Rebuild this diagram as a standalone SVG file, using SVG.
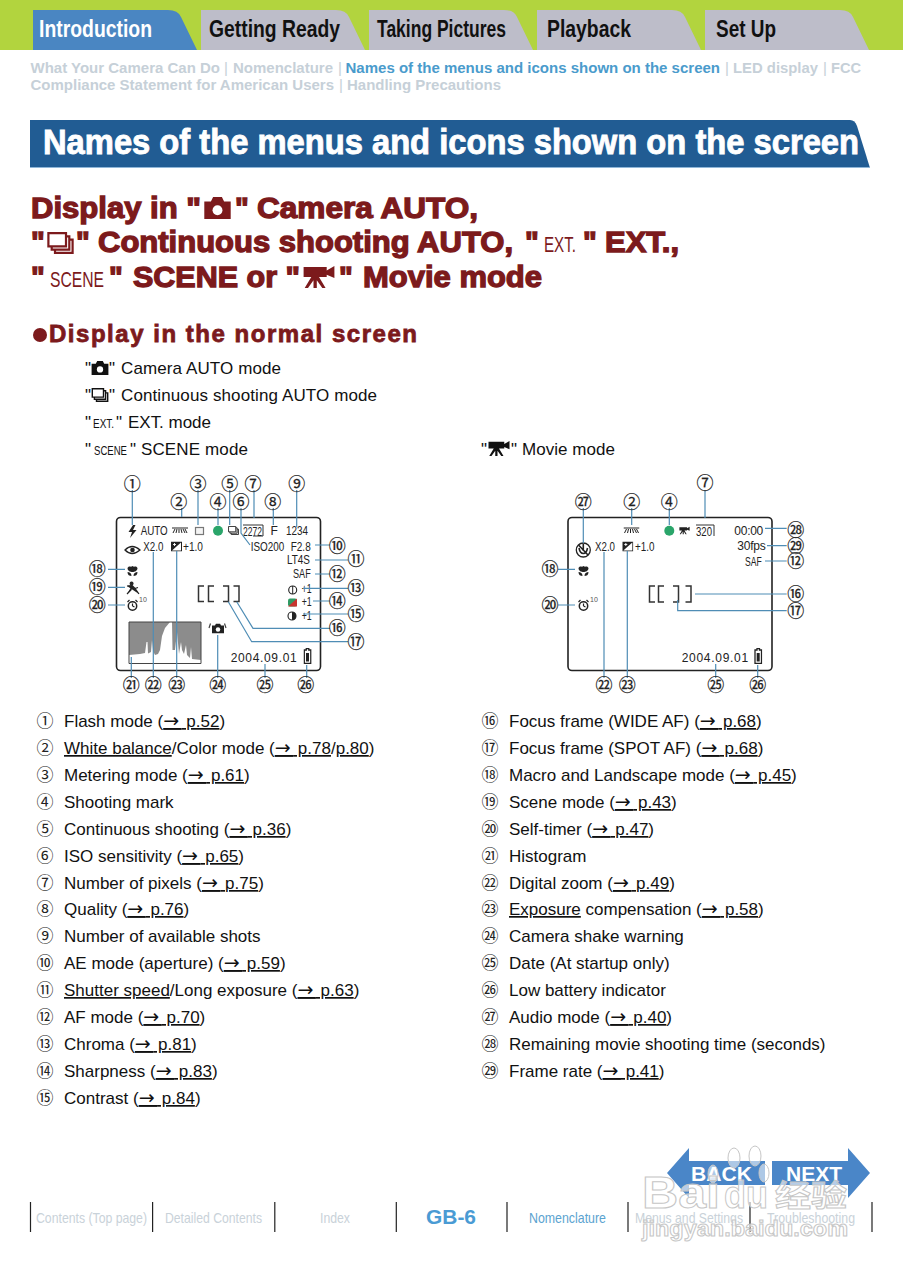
<svg xmlns="http://www.w3.org/2000/svg" width="903" height="1280" viewBox="0 0 903 1280">
<style>
text{font-family:"Liberation Sans",Arial,sans-serif}
.tab{font-size:23px;font-weight:700;fill:#111}
.crumb{font-size:15px;font-weight:700;fill:#c6d0d8}
.crumbon{font-size:15px;font-weight:700;fill:#4a9bcc}
.h1{font-size:29px;font-weight:700;fill:#7c1a1c;stroke:#7c1a1c;stroke-width:1.3px}
.thin{font-size:22px;fill:#7c1a1c}
.h2{font-size:24px;font-weight:700;fill:#7c1a1c;stroke:#7c1a1c;stroke-width:.8px}
.li{font-size:17px;fill:#111}
.ths{font-size:13px;fill:#111}
.it{font-size:17px;fill:#111}
.u{text-decoration:underline;text-underline-offset:4px;text-decoration-thickness:1px;text-decoration-color:#333}
.ar{font-family:"DejaVu Sans",sans-serif;font-size:19px;letter-spacing:2.5px}
.cn{font-family:"Noto Sans CJK JP","Noto Sans CJK SC",sans-serif;font-size:17px;fill:#222;text-anchor:middle}
.m{font-family:"Noto Sans CJK JP","Noto Sans CJK SC",sans-serif;font-size:17px;fill:#222;text-anchor:middle;stroke:#222;stroke-width:.25px}
.lcd{font-size:12px;fill:#222}
.small{font-size:7px;fill:#555}
.lead{fill:none;stroke:#4f8db5;stroke-width:1.2}
.frame{fill:#fff;stroke:#222;stroke-width:1.6}
.br{fill:none;stroke:#333;stroke-width:1.5}
.ft{font-size:14.5px;fill:#c9d2d9}
.ftb{font-size:14.5px;fill:#5ba3d0}
.bar{stroke:#222;stroke-width:1.2}
.nav{font-size:21px;font-weight:700;fill:#fff}
.wm{font-weight:700;fill:#fff;fill-opacity:.6;stroke:#c6c6c6;stroke-width:1}
.paw{fill:#fff;fill-opacity:.55;stroke:#c6c6c6}
</style>
<defs>
<symbol id="cam" viewBox="0 0 24 20"><path d="M0 4H6L8 0H16L18 4H24V20H0Z" fill="currentColor"/><circle cx="12" cy="12" r="4.500" fill="#fff"/></symbol>
<symbol id="cont" viewBox="0 0 24 20"><path d="M1 1H17V13H1Z M4 13V16H20V4H17 M7 16V19H23V7H20" fill="none" stroke="currentColor" stroke-width="2"/></symbol>
<symbol id="mov" viewBox="0 0 30 20"><path d="M1 1H22V4L29 0V11L22 8V10H1Z M8 10H15L21 20H18L13 13V20H10V13L5 20H2Z" fill="currentColor"/></symbol>
<symbol id="wb" viewBox="0 0 16 7"><path d="M0 1H16M1 6L3 2M4 6L5 2M7 6L7 2M10 6L9 2M13 6L11 2M15 6L13 2" stroke="#222" stroke-width="1" fill="none"/></symbol>
<symbol id="macro" viewBox="0 0 12 11"><path d="M1 3C3 0 4 3 6 1C8 3 9 0 11 3C11 6 8 7 6 7C4 7 1 6 1 3ZM1 7C3 7 5 8 5 11C3 11 1 10 1 7ZM11 7C9 7 7 8 7 11C9 11 11 10 11 7Z" fill="#222"/></symbol>
<symbol id="timer" viewBox="0 0 12 12"><circle cx="6" cy="7" r="4.200" fill="none" stroke="#222" stroke-width="1.500"/><path d="M6 7V4.500M6 7L8 8M1 3L3 1M9 1L11 3" stroke="#222" stroke-width="1.200" fill="none"/></symbol>
<symbol id="exp" viewBox="0 0 11 10"><rect width="11" height="10" fill="#222"/><path d="M1 9L10 1V9Z" fill="#fff"/><path d="M2 3H5M3.500 1.500V4.500M6.500 7H9" stroke="#fff" stroke-width=".9" fill="none"/></symbol>
<symbol id="bat" viewBox="0 0 8.500 16"><path d="M1 2H3V.7H5.500V2H7.500V15.300H1Z" fill="#fff" stroke="#222" stroke-width="1.300"/><rect x="2.700" y="5" width="3" height="8.500" fill="#222"/></symbol>
</defs>

<g id="top-nav">
<rect width="903" height="50" fill="#b2d43e"/>
<path id="tab-introduction" d="M33 50V10H168Q178 10 181 17L197 50Z" fill="#4a86c2"/>
<path id="tab-getting-ready" d="M201 50V10H336Q346 10 349 17L365 50Z" fill="#bdbdc9"/>
<path id="tab-taking-pictures" d="M369 50V10H504Q514 10 517 17L533 50Z" fill="#bdbdc9"/>
<path id="tab-playback" d="M537 50V10H672Q682 10 685 17L701 50Z" fill="#bdbdc9"/>
<path id="tab-set-up" d="M705 50V10H840Q850 10 853 17L869 50Z" fill="#bdbdc9"/>
<text class="tab" x="39" y="37" style="fill:#fff" textLength="113" lengthAdjust="spacingAndGlyphs">Introduction</text>
<text class="tab" x="209" y="37" textLength="131" lengthAdjust="spacingAndGlyphs">Getting Ready</text>
<text class="tab" x="377" y="37" textLength="129" lengthAdjust="spacingAndGlyphs">Taking Pictures</text>
<text class="tab" x="547" y="37" textLength="84" lengthAdjust="spacingAndGlyphs">Playback</text>
<text class="tab" x="716" y="37" textLength="60" lengthAdjust="spacingAndGlyphs">Set Up</text>
</g>

<g id="breadcrumb">
<text class="crumb" x="30.500" y="73" textLength="189.500" lengthAdjust="spacingAndGlyphs">What Your Camera Can Do</text>
<text class="crumb" x="224" y="73" style="font-weight:400">|</text>
<text class="crumb" x="233" y="73" textLength="100" lengthAdjust="spacingAndGlyphs">Nomenclature</text>
<text class="crumb" x="338" y="73" style="font-weight:400">|</text>
<text class="crumbon" x="345.500" y="73" textLength="374.500" lengthAdjust="spacingAndGlyphs">Names of the menus and icons shown on the screen</text>
<text class="crumb" x="725" y="73" style="font-weight:400">|</text>
<text class="crumb" x="733" y="73" textLength="85" lengthAdjust="spacingAndGlyphs">LED display</text>
<text class="crumb" x="823" y="73" style="font-weight:400">|</text>
<text class="crumb" x="831" y="73" textLength="30" lengthAdjust="spacingAndGlyphs">FCC</text>
<text class="crumb" x="30.500" y="90" textLength="303.500" lengthAdjust="spacingAndGlyphs">Compliance Statement for American Users</text>
<text class="crumb" x="339" y="90" style="font-weight:400">|</text>
<text class="crumb" x="347" y="90" textLength="154" lengthAdjust="spacingAndGlyphs">Handling Precautions</text>
</g>

<g id="title-bar">
<path d="M30 120H850Q855 120 857 126L870 168H30Z" fill="#215c93"/>
<path d="M30 167.500H870" stroke="#8fb6d8" stroke-width="1"/>
<text x="43" y="154" textLength="816" lengthAdjust="spacingAndGlyphs" style="font-size:35px;font-weight:700;fill:#fff;stroke:#fff;stroke-width:.9px">Names of the menus and icons shown on the screen</text>
</g>

<g id="heading" style="color:#7c1a1c">
<text class="h1" x="31" y="218" textLength="170" lengthAdjust="spacingAndGlyphs">Display in "</text>
<use href="#cam" x="203" y="197" width="29" height="22"/>
<text class="h1" x="235" y="218">"</text>
<text class="h1" x="257" y="218" textLength="221" lengthAdjust="spacingAndGlyphs">Camera AUTO,</text>
<text class="h1" x="31" y="252">"</text>
<use href="#cont" x="47" y="232" width="27" height="22"/>
<text class="h1" x="76" y="252">"</text>
<text class="h1" x="98" y="252" textLength="415" lengthAdjust="spacingAndGlyphs">Continuous shooting AUTO,</text>
<text class="h1" x="525" y="252">"</text>
<text class="thin" x="544" y="252" textLength="32" lengthAdjust="spacingAndGlyphs">EXT.</text>
<text class="h1" x="583" y="252">"</text>
<text class="h1" x="605" y="252" textLength="74" lengthAdjust="spacingAndGlyphs">EXT.,</text>
<text class="h1" x="31" y="287">"</text>
<text class="thin" x="50" y="287" textLength="54" lengthAdjust="spacingAndGlyphs">SCENE</text>
<text class="h1" x="109" y="287">"</text>
<text class="h1" x="133" y="287" textLength="167" lengthAdjust="spacingAndGlyphs">SCENE or "</text>
<use href="#mov" x="301" y="266" width="36" height="22"/>
<text class="h1" x="339" y="287">"</text>
<text class="h1" x="363" y="287" textLength="179" lengthAdjust="spacingAndGlyphs">Movie mode</text>
</g>

<g id="subheading">
<circle cx="40" cy="335" r="7" fill="#7c1a1c"/>
<text class="h2" x="49" y="342" textLength="368" lengthAdjust="spacing">Display in the normal screen</text>
</g>

<g id="mode-list" style="color:#111">
<text class="li" x="85" y="374">"</text><use href="#cam" x="91" y="361" width="18" height="14"/><text class="li" x="109" y="374">"</text><text class="li" x="121" y="374" textLength="160">Camera AUTO mode</text>
<text class="li" x="85" y="401">"</text><use href="#cont" x="91" y="388" width="18" height="14"/><text class="li" x="109" y="401">"</text><text class="li" x="121" y="401" textLength="256">Continuous shooting AUTO mode</text>
<text class="li" x="85" y="428">"</text><text class="ths" x="93" y="428" textLength="21" lengthAdjust="spacingAndGlyphs">EXT.</text><text class="li" x="116" y="428">"</text><text class="li" x="128" y="428" textLength="83">EXT. mode</text>
<text class="li" x="85" y="455">"</text><text class="ths" x="94" y="455" textLength="33" lengthAdjust="spacingAndGlyphs">SCENE</text><text class="li" x="130" y="455">"</text><text class="li" x="141" y="455" textLength="107">SCENE mode</text>
<text class="li" x="481" y="455">"</text><use href="#mov" x="487" y="441" width="24" height="15"/><text class="li" x="511" y="455">"</text><text class="li" x="522" y="455" textLength="93">Movie mode</text>
</g>

<g id="screen-left">
<rect class="frame" x="116.500" y="517.500" width="204" height="153" rx="4"/>
<path d="M133 525L128.500 532H132L130 538L136.500 530H133L135.500 525Z" fill="#222"/>
<text class="lcd" x="140.700" y="535" textLength="27" lengthAdjust="spacingAndGlyphs" style="font-size:13px">AUTO</text>
<use href="#wb" x="172" y="527" width="16" height="7"/>
<rect x="195.500" y="527.500" width="8" height="7" fill="#f4f4f4" stroke="#777" stroke-width="1.200"/>
<circle cx="218" cy="530.700" r="5" fill="#2aa56a"/>
<g style="color:#222"><use href="#cont" x="228" y="526" width="11" height="9"/></g>
<path d="M243 525H263V536H253" fill="none" stroke="#333" stroke-width="1"/>
<text class="lcd" x="243" y="536" textLength="19" lengthAdjust="spacingAndGlyphs">2272</text>
<text class="lcd" x="270.500" y="535">F</text>
<text class="lcd" x="286" y="535" textLength="22" lengthAdjust="spacingAndGlyphs">1234</text>
<path d="M125 550Q132 543 140 550Q132 557 125 550Z" fill="none" stroke="#222" stroke-width="1.300"/><circle cx="132.500" cy="550" r="2.300" fill="#222"/>
<text class="lcd" x="143.300" y="551" textLength="20" lengthAdjust="spacingAndGlyphs">X2.0</text>
<use href="#exp" x="171" y="541.500" width="11" height="10"/>
<text class="lcd" x="183" y="551" textLength="20" lengthAdjust="spacingAndGlyphs">+1.0</text>
<text class="lcd" x="250.700" y="551" textLength="33.500" lengthAdjust="spacingAndGlyphs">ISO200</text>
<text class="lcd" x="290.700" y="551" textLength="20" lengthAdjust="spacingAndGlyphs">F2.8</text>
<text class="lcd" x="287" y="564" textLength="23" lengthAdjust="spacingAndGlyphs">LT4S</text>
<text class="lcd" x="293" y="578" textLength="17.700" lengthAdjust="spacingAndGlyphs">SAF</text>
<circle cx="292.700" cy="590" r="4" fill="#fff" stroke="#222" stroke-width="1.100"/><path d="M292.700 586V594" stroke="#222"/>
<text class="lcd" x="301.700" y="593" textLength="10" lengthAdjust="spacingAndGlyphs">+1</text>
<rect x="288" y="598.500" width="9" height="8" rx="2" fill="#2f9a63"/><path d="M297 598.500V606.500H288Z" fill="#c8332f"/>
<text class="lcd" x="301.700" y="606" textLength="10" lengthAdjust="spacingAndGlyphs">+1</text>
<circle cx="292" cy="616" r="4" fill="#fff" stroke="#222" stroke-width="1.100"/><path d="M292 612A4 4 0 0 1 292 620Z" fill="#222"/>
<text class="lcd" x="301.700" y="620" textLength="10" lengthAdjust="spacingAndGlyphs">+1</text>
<use href="#macro" x="126.500" y="565" width="12" height="11"/>
<path d="M133 583.500A1.400 1.400 0 1 1 133 583.400M127 586L132 585.500L135 588.500L139 594M132 585.500L131 590L127 594M135 588.500L138 587.500" fill="#222" stroke="#222" stroke-width="1.200"/>
<use href="#timer" x="126.500" y="599" width="12" height="12"/>
<text class="small" x="139" y="602">10</text>
<path class="br" d="M204 586H198.500V601.500H204M214 586H208.500V601.500H214M223 586H228.500V601.500H223M233.500 586H239V601.500H233.500"/>
<g id="histogram">
<path d="M129 622H201V663H129Z" fill="#fff"/>
<path d="M129 622H201V660L192 659L191 647L190 658L187 655L186 645L184 654L182 650L181 642L179 654L178 643L177 632L175 650H172.500L172 622H170L165 628L162 636L160 650L158 654L155 655L153 651L152 640L151 652L148 653.500L147.500 642L146.500 642L145 653L140 654L129 655Z" fill="#8c8c8c"/>
<path d="M129 622H201V663.500H129Z" fill="none" stroke="#444" stroke-width="1"/>
</g>
<g style="color:#222"><use href="#cam" x="212" y="623.500" width="12" height="10"/></g>
<path d="M209 628L210.500 623.500M226 628L224.500 623.500" stroke="#444" stroke-width="1.200"/>
<text class="lcd" x="230.700" y="661.700" textLength="66">2004.09.01</text>
<use href="#bat" x="303.300" y="648" width="8.500" height="16"/>
</g>

<g id="screen-right">
<rect class="frame" x="568" y="517.500" width="204" height="153" rx="4"/>
<use href="#wb" x="623.500" y="527" width="16" height="7"/>
<circle cx="669.300" cy="530.700" r="5" fill="#2aa56a"/>
<g style="color:#222"><use href="#mov" x="679" y="526" width="11" height="9"/></g>
<path d="M696 525H714V536" fill="none" stroke="#333" stroke-width="1"/>
<text class="lcd" x="696" y="536" textLength="16" lengthAdjust="spacingAndGlyphs">320</text>
<text class="lcd" x="734.300" y="535" textLength="29">00:00</text>
<text class="lcd" x="737.300" y="550" textLength="28.500">30fps</text>
<text class="lcd" x="745" y="565.700" textLength="16.700" lengthAdjust="spacingAndGlyphs">SAF</text>
<circle cx="583.300" cy="550" r="7" fill="none" stroke="#222" stroke-width="1.300"/><path d="M583.300 544V551M579 548Q580 553.500 583.300 553.500Q586.500 553.500 587.500 548M578.500 545L588 555" stroke="#222" stroke-width="1.600" fill="none"/>
<text class="lcd" x="595" y="551" textLength="20" lengthAdjust="spacingAndGlyphs">X2.0</text>
<use href="#exp" x="622.300" y="541.500" width="11" height="10"/>
<text class="lcd" x="635" y="551" textLength="19.500" lengthAdjust="spacingAndGlyphs">+1.0</text>
<use href="#macro" x="577.500" y="565" width="12" height="11"/>
<use href="#timer" x="577.500" y="599" width="12" height="12"/>
<text class="small" x="590" y="602">10</text>
<path class="br" d="M655 586H649.500V602H655M664 586H658.500V602H664M673 586H678.500V602H673M685.500 586H691V602H685.500"/>
<text class="lcd" x="681.700" y="661.700" textLength="66.500">2004.09.01</text>
<use href="#bat" x="754" y="648" width="8.500" height="16"/>
</g>

<g id="connectors">
<path class="lead" d="M132.300 490V525M181.700 508V517M198 490V525M218 508V525M229.700 490V525M241 508V533L250 545M254 490V518M273.300 508V525M296.700 490V527M315 545H330M315 560H348M315 574H330M303 588.300H348M313 601H330M303 614H348M236.700 601.700L253 628.300H330M228.300 601.700L251.700 641.700H348M108 569.300H125M108 587.300H125M108 605H125M131.300 657V678M153.300 552V678M176.700 551V678M217.700 635V678M265 664V678M306.700 665V678"/>
<path class="lead" d="M583.300 508V543M631.700 508V525M669.300 508V525M705 490V518M765 528.300H786.700M767 545.700H786.700M765 561H786.700M695 594H786.700M677.700 600V610.700H786.700M558 569.300H575M558 605H575M604 552V678M627.300 551V678M715.700 664V678M757.700 665V678"/>
</g>

<g id="callouts-left">
<text class="m" x="132.300" y="489.800">①</text><text class="m" x="178.700" y="507.800">②</text><text class="m" x="198" y="489.800">③</text><text class="m" x="218" y="507.800">④</text><text class="m" x="229.700" y="489.800">⑤</text><text class="m" x="241" y="507.800">⑥</text><text class="m" x="253" y="489.800">⑦</text><text class="m" x="272.700" y="507.800">⑧</text><text class="m" x="296.700" y="489.800">⑨</text>
<text class="m" x="337.300" y="551.800">⑩</text><text class="m" x="356" y="564.800">⑪</text><text class="m" x="337.300" y="579.800">⑫</text><text class="m" x="356" y="594">⑬</text><text class="m" x="337.300" y="606.800">⑭</text><text class="m" x="356" y="619.800">⑮</text><text class="m" x="337.300" y="634">⑯</text><text class="m" x="356" y="647.500">⑰</text>
<text class="m" x="97.300" y="575">⑱</text><text class="m" x="97.300" y="593">⑲</text><text class="m" x="97.300" y="610.800">⑳</text>
<text class="m" x="131.300" y="690.800">㉑</text><text class="m" x="153.300" y="690.800">㉒</text><text class="m" x="176.700" y="690.800">㉓</text><text class="m" x="217.700" y="690.800">㉔</text><text class="m" x="265" y="690.800">㉕</text><text class="m" x="305.700" y="690.800">㉖</text>
</g>
<g id="callouts-right">
<text class="m" x="583.300" y="507.800">㉗</text><text class="m" x="631.700" y="507.800">②</text><text class="m" x="669.300" y="507.800">④</text><text class="m" x="705" y="489">⑦</text>
<text class="m" x="795.700" y="535.800">㉘</text><text class="m" x="795.700" y="551.500">㉙</text><text class="m" x="795.700" y="566.800">⑫</text><text class="m" x="795.700" y="599.800">⑯</text><text class="m" x="795.700" y="616.500">⑰</text>
<text class="m" x="550" y="575">⑱</text><text class="m" x="550" y="610.800">⑳</text>
<text class="m" x="604" y="690.800">㉒</text><text class="m" x="627.300" y="690.800">㉓</text><text class="m" x="715.700" y="690.800">㉕</text><text class="m" x="757.700" y="690.800">㉖</text>
</g>

<g id="legend-left">
<text class="cn" x="45" y="727">①</text><text class="it" x="64" y="727">Flash mode (<tspan class="u"><tspan class="ar">→</tspan> p.52</tspan>)</text>
<text class="cn" x="45" y="754">②</text><text class="it" x="64" y="754"><tspan class="u">White balance</tspan>/Color mode (<tspan class="u"><tspan class="ar">→</tspan> p.78</tspan>/<tspan class="u">p.80</tspan>)</text>
<text class="cn" x="45" y="781">③</text><text class="it" x="64" y="781">Metering mode (<tspan class="u"><tspan class="ar">→</tspan> p.61</tspan>)</text>
<text class="cn" x="45" y="808">④</text><text class="it" x="64" y="808">Shooting mark</text>
<text class="cn" x="45" y="835">⑤</text><text class="it" x="64" y="835">Continuous shooting (<tspan class="u"><tspan class="ar">→</tspan> p.36</tspan>)</text>
<text class="cn" x="45" y="862">⑥</text><text class="it" x="64" y="862">ISO sensitivity (<tspan class="u"><tspan class="ar">→</tspan> p.65</tspan>)</text>
<text class="cn" x="45" y="889">⑦</text><text class="it" x="64" y="889">Number of pixels (<tspan class="u"><tspan class="ar">→</tspan> p.75</tspan>)</text>
<text class="cn" x="45" y="915">⑧</text><text class="it" x="64" y="915">Quality (<tspan class="u"><tspan class="ar">→</tspan> p.76</tspan>)</text>
<text class="cn" x="45" y="942">⑨</text><text class="it" x="64" y="942">Number of available shots</text>
<text class="cn" x="45" y="969">⑩</text><text class="it" x="64" y="969">AE mode (aperture) (<tspan class="u"><tspan class="ar">→</tspan> p.59</tspan>)</text>
<text class="cn" x="45" y="996">⑪</text><text class="it" x="64" y="996"><tspan class="u">Shutter speed</tspan>/Long exposure (<tspan class="u"><tspan class="ar">→</tspan> p.63</tspan>)</text>
<text class="cn" x="45" y="1023">⑫</text><text class="it" x="64" y="1023">AF mode (<tspan class="u"><tspan class="ar">→</tspan> p.70</tspan>)</text>
<text class="cn" x="45" y="1050">⑬</text><text class="it" x="64" y="1050">Chroma (<tspan class="u"><tspan class="ar">→</tspan> p.81</tspan>)</text>
<text class="cn" x="45" y="1077">⑭</text><text class="it" x="64" y="1077">Sharpness (<tspan class="u"><tspan class="ar">→</tspan> p.83</tspan>)</text>
<text class="cn" x="45" y="1104">⑮</text><text class="it" x="64" y="1104">Contrast (<tspan class="u"><tspan class="ar">→</tspan> p.84</tspan>)</text>
</g>
<g id="legend-right">
<text class="cn" x="490" y="727">⑯</text><text class="it" x="509" y="727">Focus frame (WIDE AF) (<tspan class="u"><tspan class="ar">→</tspan> p.68</tspan>)</text>
<text class="cn" x="490" y="754">⑰</text><text class="it" x="509" y="754">Focus frame (SPOT AF) (<tspan class="u"><tspan class="ar">→</tspan> p.68</tspan>)</text>
<text class="cn" x="490" y="781">⑱</text><text class="it" x="509" y="781">Macro and Landscape mode (<tspan class="u"><tspan class="ar">→</tspan> p.45</tspan>)</text>
<text class="cn" x="490" y="808">⑲</text><text class="it" x="509" y="808">Scene mode (<tspan class="u"><tspan class="ar">→</tspan> p.43</tspan>)</text>
<text class="cn" x="490" y="835">⑳</text><text class="it" x="509" y="835">Self-timer (<tspan class="u"><tspan class="ar">→</tspan> p.47</tspan>)</text>
<text class="cn" x="490" y="862">㉑</text><text class="it" x="509" y="862">Histogram</text>
<text class="cn" x="490" y="889">㉒</text><text class="it" x="509" y="889">Digital zoom (<tspan class="u"><tspan class="ar">→</tspan> p.49</tspan>)</text>
<text class="cn" x="490" y="915">㉓</text><text class="it" x="509" y="915"><tspan class="u">Exposure</tspan> compensation (<tspan class="u"><tspan class="ar">→</tspan> p.58</tspan>)</text>
<text class="cn" x="490" y="942">㉔</text><text class="it" x="509" y="942">Camera shake warning</text>
<text class="cn" x="490" y="969">㉕</text><text class="it" x="509" y="969">Date (At startup only)</text>
<text class="cn" x="490" y="996">㉖</text><text class="it" x="509" y="996">Low battery indicator</text>
<text class="cn" x="490" y="1023">㉗</text><text class="it" x="509" y="1023">Audio mode (<tspan class="u"><tspan class="ar">→</tspan> p.40</tspan>)</text>
<text class="cn" x="490" y="1050">㉘</text><text class="it" x="509" y="1050">Remaining movie shooting time (seconds)</text>
<text class="cn" x="490" y="1077">㉙</text><text class="it" x="509" y="1077">Frame rate (<tspan class="u"><tspan class="ar">→</tspan> p.41</tspan>)</text>
</g>

<g id="back-next">
<path id="back" d="M667 1173L689 1148V1161H765V1185H689V1198Z" fill="#4a86c8"/>
<path id="next" d="M870 1173L848 1148V1161H772V1185H848V1198Z" fill="#4a86c8"/>
<text class="nav" x="691" y="1181" textLength="61" lengthAdjust="spacingAndGlyphs">BACK</text>
<text class="nav" x="786" y="1181" textLength="56" lengthAdjust="spacingAndGlyphs">NEXT</text>
</g>

<g id="footer">
<path class="bar" d="M30.500 1202V1232M152.600 1202V1232M274.800 1202V1232M396.300 1202V1232M507 1202V1232M628 1202V1232M750 1202V1232M872 1202V1232"/>
<text class="ft" x="36" y="1223" textLength="111" lengthAdjust="spacingAndGlyphs">Contents (Top page)</text>
<text class="ft" x="165" y="1223" textLength="97" lengthAdjust="spacingAndGlyphs">Detailed Contents</text>
<text class="ft" x="320" y="1223" textLength="30" lengthAdjust="spacingAndGlyphs">Index</text>
<text x="426" y="1224" textLength="50" lengthAdjust="spacingAndGlyphs" style="font-size:21px;font-weight:700;fill:#4a9bd4">GB-6</text>
<text class="ftb" x="529" y="1223" textLength="77" lengthAdjust="spacingAndGlyphs">Nomenclature</text>
<text class="ft" x="635" y="1223" textLength="108" lengthAdjust="spacingAndGlyphs">Menus and Settings</text>
<text class="ft" x="767" y="1223" textLength="88" lengthAdjust="spacingAndGlyphs">Troubleshooting</text>
</g>

<g id="watermark">
<ellipse class="paw" cx="734" cy="1158" rx="6" ry="10"/>
<ellipse class="paw" cx="755" cy="1156" rx="6" ry="10"/>
<ellipse class="paw" cx="713" cy="1174" rx="5" ry="9"/>
<ellipse class="paw" cx="764" cy="1173" rx="5" ry="9"/>
<text class="wm" x="642" y="1208" style="font-size:44px" textLength="78" lengthAdjust="spacingAndGlyphs">Bai</text>
<text class="wm" x="724" y="1208" style="font-size:38px" textLength="44" lengthAdjust="spacingAndGlyphs">du</text>
<text class="wm" x="775" y="1206" style="font-family:'Noto Sans CJK SC',sans-serif;font-size:30px" textLength="72" lengthAdjust="spacingAndGlyphs">经验</text>
<text class="wm" x="642" y="1236" style="font-size:22px" textLength="206" lengthAdjust="spacingAndGlyphs">jingyan.baidu.com</text>
</g>
</svg>
